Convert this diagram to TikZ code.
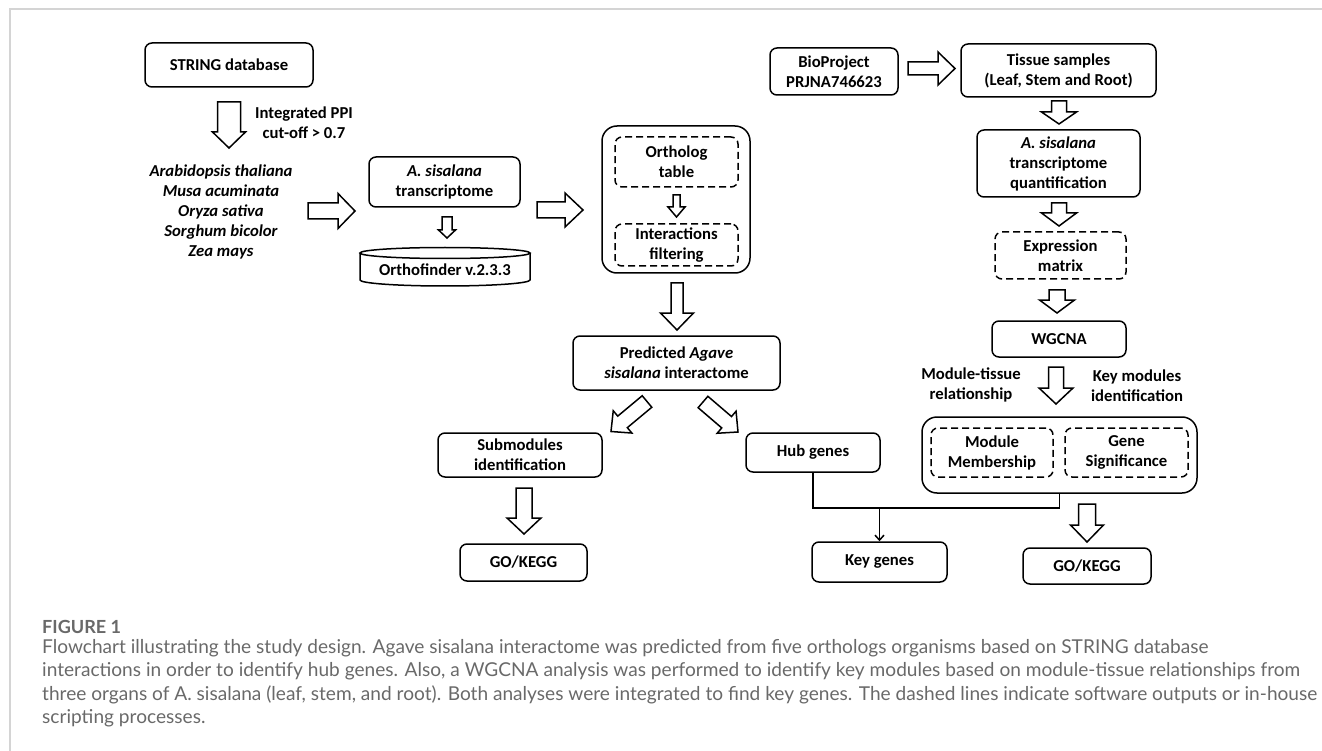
\documentclass[tikz,border=0pt]{standalone}
\usepackage{fontspec}
\usetikzlibrary{calc,arrows.meta}
\newfontfamily\diagfont{Carlito}
\newfontfamily\capfont{Lato}
\definecolor{framegray}{RGB}{212,212,212}
\definecolor{capgray}{RGB}{105,105,105}
\newlength\mesw
\def\fatarrow(#1)(#2)(#3:#4:#5){%
	\coordinate (fa-a) at (#1);
	\coordinate (fa-b) at (#2);
	\coordinate (fa-c) at ($(fa-b)!#5pt!(fa-a)$);
	\draw[hollow] ($(fa-a)!#3pt!90:(fa-b)$) -- ($(fa-c)!#3pt!-90:(fa-a)$) -- ($(fa-c)!#4pt!-90:(fa-a)$) -- (fa-b) -- ($(fa-c)!#4pt!90:(fa-a)$) -- ($(fa-c)!#3pt!90:(fa-a)$) -- ($(fa-a)!#3pt!-90:(fa-b)$) -- cycle;}

\begin{document}
% font sizes taken from the widths of the printed texts
\settowidth{\mesw}{\diagfont\bfseries\fontsize{16pt}{20pt}\selectfont STRING database}%
\pgfmathsetmacro\diagsize{max(12,min(20,16*(118.3/max(1,\mesw))))}%
\settowidth{\mesw}{\capfont\fontsize{17pt}{20pt}\selectfont interactions in order to identify hub genes. Also, a WGCNA analysis was performed to identify key modules based on module-tissue relationships from}%
\pgfmathsetmacro\capsize{max(14,min(22,17*(1258/max(1,\mesw))))}%
\settowidth{\mesw}{\capfont\bfseries\fontsize{17pt}{20pt}\selectfont FIGURE 1}%
\pgfmathsetmacro\figsize{max(14,min(22,17*(79/max(1,\mesw))))}%
\begin{tikzpicture}[x=1pt, y=-1pt,
	box/.style={draw, line width=1.5pt, rounded corners=7pt, align=center, inner sep=0pt, font=\diagfont\bfseries\fontsize{\diagsize pt}{20pt}\selectfont},
	dashbox/.style={box, dash pattern=on 7pt off 4pt},
	note/.style={align=center, inner sep=0pt, font=\diagfont\bfseries\fontsize{\diagsize pt}{20pt}\selectfont},
	hollow/.style={draw, line width=1.5pt, fill=white, line join=miter},
	wire/.style={line width=1.5pt},
	captext/.style={anchor=base west, inner sep=0pt, text=capgray, font=\capfont\fontsize{\capsize pt}{20pt}\selectfont}]
			%%%%% START %%%%%
			\useasboundingbox (0,0) rectangle (1322,751);
			\draw[line width=1.5pt, color=framegray] (10,751) -- (10,9) -- (1322,9);
			
			\node[box, minimum width=168pt, minimum height=44pt] (string) at (229,65) {STRING database};
			\node[note] (ppi) at (304,123) {Integrated PPI\\cut-off > 0.7};
			\node[note, font=\diagfont\bfseries\itshape\fontsize{\diagsize pt}{20pt}\selectfont] (species) at (221,212) {Arabidopsis thaliana\\Musa acuminata\\Oryza sativa\\Sorghum bicolor\\Zea mays};
			
			\node[box, minimum width=151pt, minimum height=50pt] (asis) at (444.5,182) {\textit{A. sisalana}\\transcriptome};
			\draw[hollow] (360,253) -- (360,280) arc (180:360:85pt and 6pt) -- (530,253);
			\draw[hollow] (445,253) ellipse (85pt and 5.5pt);
			\node[note] (ortho) at (445,270) {Orthofinder v.2.3.3};
			
			\node[box, rounded corners=15pt, minimum width=148pt, minimum height=147pt] (orthobox) at (676,199.5) {};
			\node[dashbox, minimum width=123pt, minimum height=50pt] (olt) at (676.5,162) {Ortholog\\table};
			\node[dashbox, minimum width=123pt, minimum height=42pt] (ifl) at (676.5,245) {Interactions\\filtering};
			
			\node[box, minimum width=207pt, minimum height=54pt] (pred) at (676.5,363) {Predicted \textit{Agave}\\\textit{sisalana} interactome};
			\node[box, minimum width=164pt, minimum height=44pt] (sub) at (520,455) {Submodules\\identification};
			\node[box, minimum width=127pt, minimum height=37pt] (gol) at (523.5,562.5) {GO/KEGG};
			\node[box, minimum width=134pt, minimum height=39pt] (hub) at (813,452.5) {Hub genes};
			\node[box, minimum width=135pt, minimum height=40pt] (key) at (879.5,562) {Key genes};
			
			\node[box, minimum width=128pt, minimum height=47pt] (bio) at (834,71.5) {BioProject\\PRJNA746623};
			\node[box, minimum width=195pt, minimum height=53pt] (tis) at (1058.5,70.5) {Tissue samples\\(Leaf, Stem and Root)};
			\node[box, minimum width=163pt, minimum height=67pt] (quant) at (1058.5,163.5) {\textit{A. sisalana}\\transcriptome\\quantification};
			\node[dashbox, minimum width=131pt, minimum height=47pt] (expr) at (1060.5,255.5) {Expression\\matrix};
			\node[box, minimum width=134pt, minimum height=36pt] (wgcna) at (1059,339) {WGCNA};
			\node[note] (modtis) at (971,385) {Module-tissue\\relationship};
			\node[note] (keymod) at (1137,386) {Key modules\\identification};
			\node[box, rounded corners=15pt, minimum width=275pt, minimum height=76pt] (mmout) at (1059.5,455) {};
			\node[dashbox, minimum width=122pt, minimum height=49pt] (mm) at (992,452.5) {Module\\Membership};
			\node[dashbox, minimum width=123pt, minimum height=49pt] (gs) at (1126.5,452.5) {Gene\\Significance};
			\node[box, minimum width=128pt, minimum height=36pt] (gor) at (1087,566) {GO/KEGG};
			
			\fatarrow(229,102)(229,148)(11.5:16.5:16)
			\fatarrow(308,211)(355,211)(8:17.5:17)
			\fatarrow(447,217)(447,238)(5:8.5:8)
			\fatarrow(537,210)(583,210)(8:17:18)
			\fatarrow(676.5,195)(676.5,217)(3.5:8.5:10)
			\fatarrow(677,283)(677,330)(6:16.5:17)
			\fatarrow(647,401.5)(611,431.5)(7.5:14.5:15)
			\fatarrow(703,402)(738,432)(7.5:14.5:15)
			\fatarrow(524,488)(524,534)(8:17:16)
			\fatarrow(908,68.5)(955,68.5)(6.5:16.5:17)
			\fatarrow(1059,101)(1059,124)(7.5:17.5:12)
			\fatarrow(1059,203)(1059,226)(7.5:17.5:13)
			\fatarrow(1057,290)(1057,313)(8:17.5:13)
			\fatarrow(1056,367)(1056,404)(7.5:17:16)
			\fatarrow(1087,504)(1087,542)(8.5:16.5:17)
			
			\coordinate (join) at (879.5,508);
			\draw[wire] (hub.south) |- (join) -| (mmout.south);
			\draw[wire, -{Straight Barb[length=5pt,width=9pt]}] (join) -- (key.north);
			
			\node[captext, font=\capfont\bfseries\fontsize{\figsize pt}{20pt}\selectfont] (fig) at (42,633) {FIGURE 1};
			\node[captext] (cap1) at (42,653) {Flowchart illustrating the study design. Agave sisalana interactome was predicted from five orthologs organisms based on STRING database};
			\node[captext] (cap2) at (42,676.5) {interactions in order to identify hub genes. Also, a WGCNA analysis was performed to identify key modules based on module-tissue relationships from};
			\node[captext] (cap3) at (42,700) {three organs of A. sisalana (leaf, stem, and root). Both analyses were integrated to find key genes. The dashed lines indicate software outputs or in-house};
			\node[captext] (cap4) at (42,723.5) {scripting processes.};
			%%%%% END %%%%%
\end{tikzpicture}
\end{document}
